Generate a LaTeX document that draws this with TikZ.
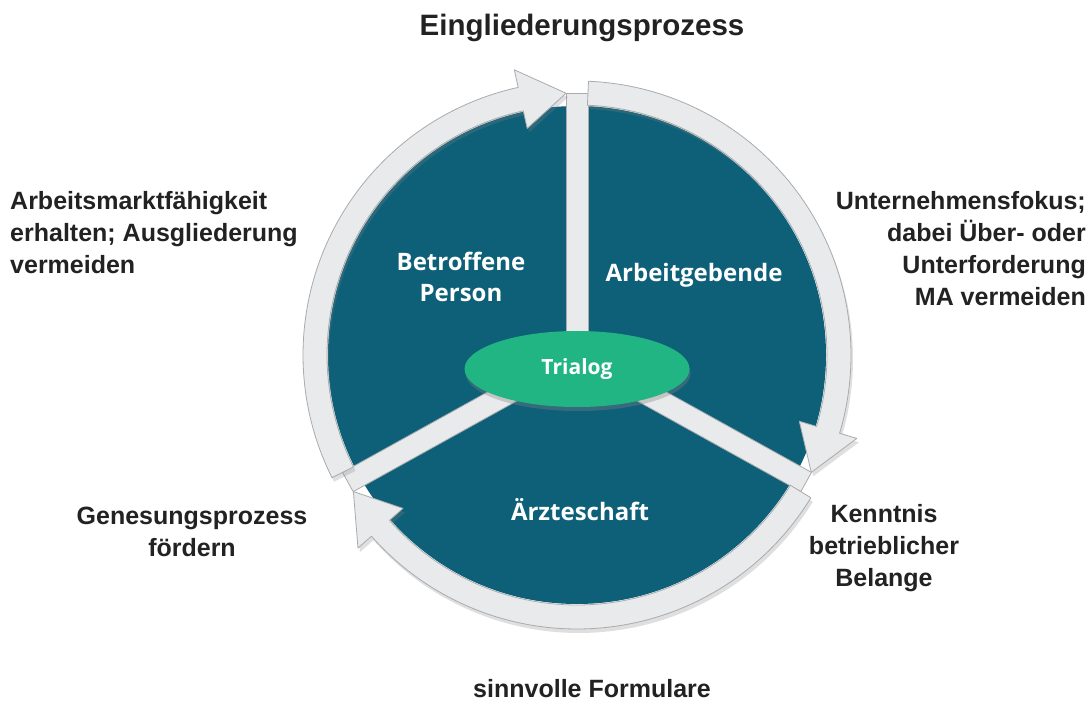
\documentclass[tikz,border=0pt]{standalone}
\usepackage{fontspec}
\setmainfont{Liberation Sans}
\newfontfamily\innerfont{Open Sans}
\usetikzlibrary{shapes.geometric,shadows}
\definecolor{petrol}{HTML}{0E6079}
\definecolor{trialoggreen}{HTML}{22B584}
\definecolor{ringgray}{HTML}{E9EAEB}
\definecolor{ringedge}{HTML}{A9ABAE}
\definecolor{textdark}{HTML}{222222}

\begin{document}
\begin{tikzpicture}[x=1pt,y=1pt,
    sidetext/.style={font=\bfseries\fontsize{25}{32}\selectfont,text=textdark,inner sep=0pt},
    innertext/.style={font=\innerfont\bfseries\fontsize{24}{31}\selectfont,text=white,align=center,inner sep=0pt},
    ringarrow/.style={fill=ringgray,draw=ringedge,line width=0.8pt,line join=round,
        drop shadow={shadow xshift=2pt,shadow yshift=-4pt,opacity=0.25}},
    spoke/.style={fill=ringgray,draw=ringedge,line width=0.8pt}]
    \def\ri{250} \def\ro{274} \def\rm{262} % Ring
    \def\rh{232} \def\rH{292} % Pfeilspitze
    \fill[white] (0,0) rectangle (1089,702);
    \useasboundingbox (0,0) rectangle (1089,702);
    \begin{scope}[shift={(577,347)}]
        \fill[petrol] (0,0) circle (249);
        \foreach \a in {90,-29,209}
            \draw[spoke,rotate=\a] (0,-11) rectangle (262,11);
        \foreach \s/\b/\t in {206.6/102.4/92.4, 87.6/-16.6/-26.6, -31.4/-138.6/-148.6}
            \draw[ringarrow] (\s:\ri) arc[start angle=\s,end angle=\b,radius=\ri]
                -- (\b:\rh) -- (\t:\rm) -- (\b:\rH) -- (\b:\ro)
                arc[start angle=\b,end angle=\s,radius=\ro] -- cycle;
    \end{scope}
    \node[ellipse,fill=trialoggreen,minimum width=225pt,minimum height=76pt,
        drop shadow={shadow xshift=1pt,shadow yshift=-4pt,opacity=0.35},
        font=\innerfont\bfseries\fontsize{21}{26}\selectfont,text=white] (trialog) at (577,333) {Trialog};
    \node[innertext] (betroffene) at (461,425) {Betroffene\\Person};
    \node[innertext] (arbeitgebende) at (694,427) {Arbeitgebende};
    \node[innertext] (aerzte) at (580,192) {Ärzteschaft};
    % Beschriftung aussen
    \node[sidetext,font=\bfseries\fontsize{29.5}{34}\selectfont] (titel) at (582,674) {Eingliederungsprozess};
    \node[sidetext,align=left,anchor=west] (arbeitsmarkt) at (10,469) {Arbeitsmarktfähigkeit\\erhalten; Ausgliederung\\vermeiden};
    \node[sidetext,align=right,anchor=east] (fokus) at (1086,453) {Unternehmensfokus;\\dabei Über- oder\\Unterforderung\\MA vermeiden};
    \node[sidetext,align=center] (genesung) at (192,170) {Genesungsprozess\\fördern};
    \node[sidetext,align=center] (kenntnis) at (884,154) {Kenntnis\\betrieblicher\\Belange};
    \node[sidetext] (formulare) at (592,13) {sinnvolle Formulare};
\end{tikzpicture}
\end{document}
